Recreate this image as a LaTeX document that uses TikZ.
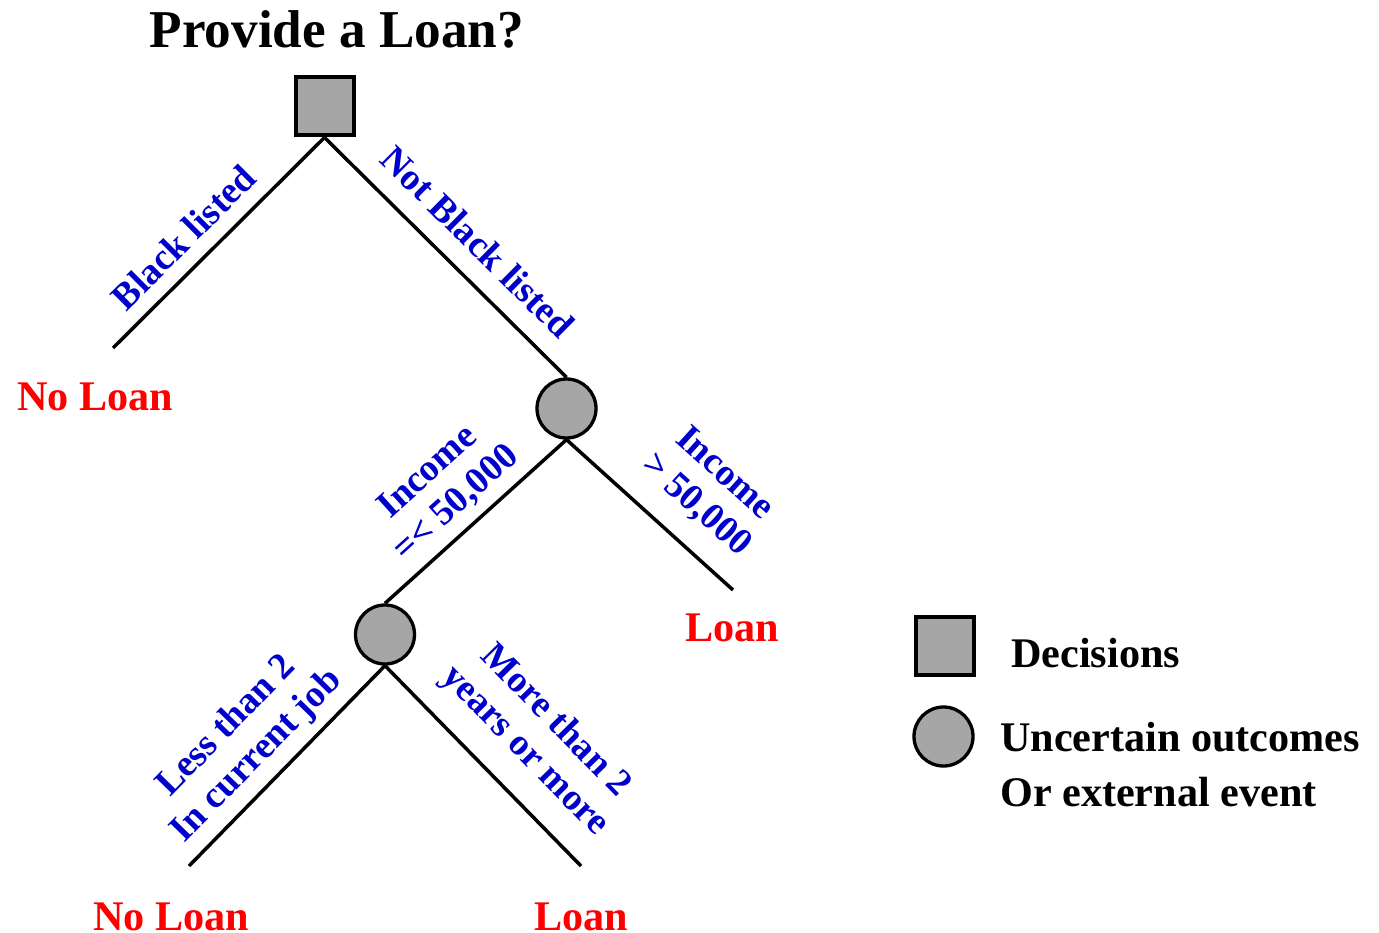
\documentclass[tikz,border=0pt]{standalone}
\usepackage{fontspec}
\setmainfont{Liberation Serif}
\definecolor{lblblue}{RGB}{0,0,204}
\definecolor{nodegray}{RGB}{166,166,166}
\newcommand\lblfont{\fontsize{37.5}{42.5}\selectfont\bfseries}
\newcommand\bigfont{\fontsize{42.2}{55}\selectfont\bfseries}
\newcommand\titlefont{\fontsize{53.2}{60}\selectfont\bfseries}
\begin{document}
\begin{tikzpicture}[x=1pt,y=-1pt,
  decision/.style={rectangle, draw=black, line width=4pt, fill=nodegray, minimum size=58pt, inner sep=0pt},
  chance/.style={circle, draw=black, line width=3.3pt, fill=nodegray, minimum size=59pt, inner sep=0pt},
  branch/.style={line width=3.5pt, black},
  lbl/.style={text=lblblue, font=\lblfont, align=center, sloped, inner sep=0pt},
  outcome/.style={text=red, font=\bigfont, inner sep=0pt},
  legendtext/.style={font=\bigfont, anchor=west, align=left, inner sep=0pt}]
\useasboundingbox (0,0) rectangle (1379,933);

% title
\node[font=\titlefont, inner sep=0pt] (title) at (337,29.5) {Provide a Loan?};

% tree nodes
\node[decision] (dec) at (324.5,106.5) {};
\node[chance] (c1) at (566.5,408.5) {};
\node[chance] (c2) at (385,634.5) {};
\coordinate (e1) at (113,348);
\coordinate (e2) at (733,590);
\coordinate (e3) at (189,866);
\coordinate (e4) at (581,866);

% branches with labels
\draw[branch] (dec.south) -- node[lbl, pos=0.571, above=14pt] {Black listed} (e1);
\draw[branch] (dec.south) -- node[lbl, pos=0.535, above=19pt] {Not Black listed} (c1.north);
\draw[branch] (c1.south) -- node[lbl, pos=0.51, above=9pt] {Income\\=< 50,000} (c2.north);
\draw[branch] (c1.south) -- node[lbl, pos=0.625, above=21pt] {Income\\> 50,000} (e2);
\draw[branch] (c2.south) -- node[lbl, pos=0.55, above=9pt] {Less than 2\\In current job} (e3);
\draw[branch] (c2.south) -- node[lbl, pos=0.566, above=21pt] {More than 2\\years or more} (e4);

% outcomes
\node[outcome] (o1) at (95,397) {No Loan};
\node[outcome] (o2) at (732.5,628) {Loan};
\node[outcome] (o3) at (171,917) {No Loan};
\node[outcome] (o4) at (581,917) {Loan};

% legend
\node[decision] (lsq) at (944.5,646) {};
\node[chance] (lci) at (943.5,736.5) {};
\node[legendtext] (ldec) at (1011,653) {Decisions};
\node[legendtext] (lunc) at (1000,765) {Uncertain outcomes\\Or external event};
\end{tikzpicture}
\end{document}
